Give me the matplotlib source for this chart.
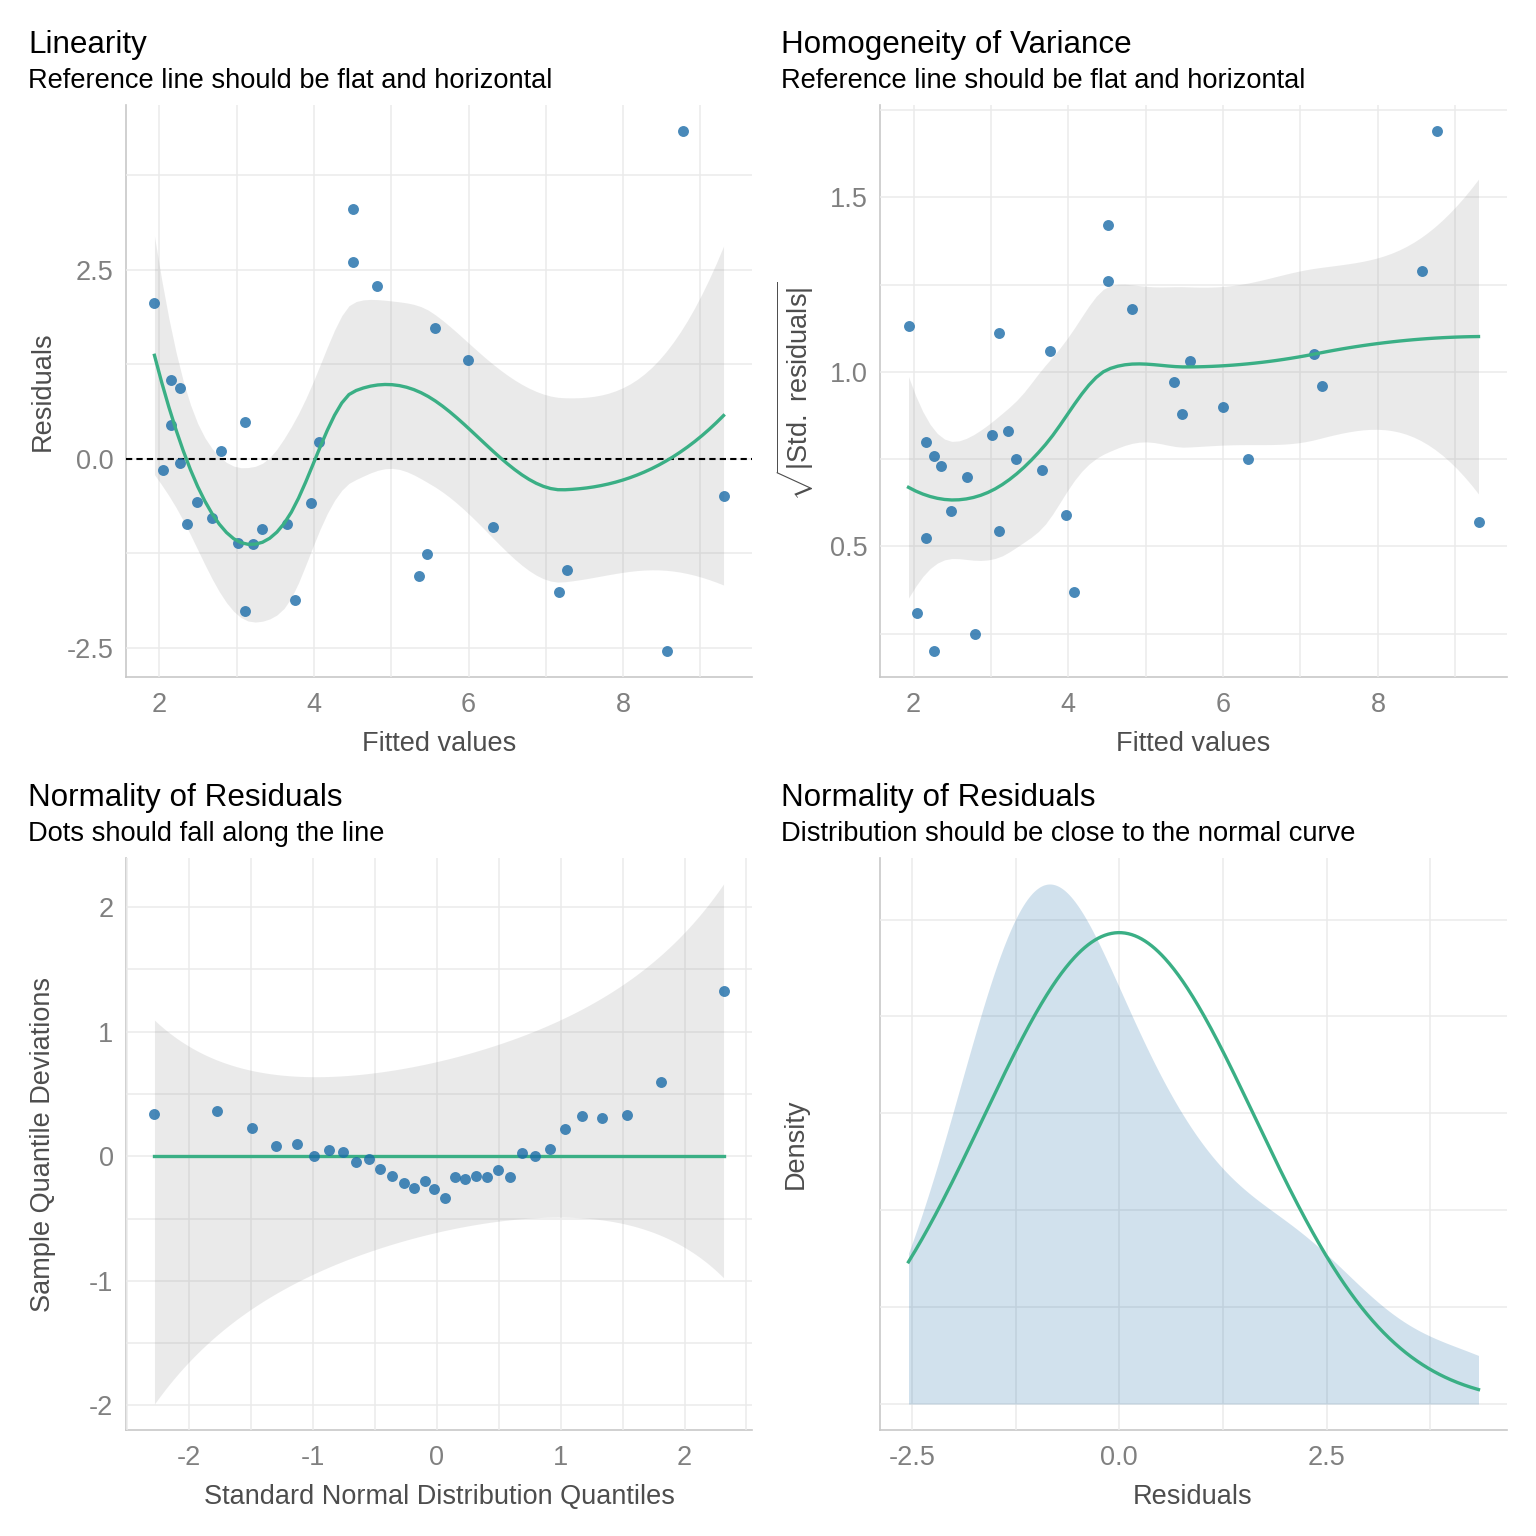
import numpy as np
import matplotlib
matplotlib.use("Agg")
import matplotlib.pyplot as plt
from matplotlib.ticker import MultipleLocator, FixedLocator, NullFormatter, FuncFormatter
from math import erf, sqrt, pi

plt.rcParams['font.family'] = ['Liberation Sans', 'DejaVu Sans']
plt.rcParams['mathtext.fontset'] = 'custom'
plt.rcParams['mathtext.rm'] = 'Liberation Sans'
plt.rcParams['mathtext.it'] = 'Liberation Sans:italic'
plt.rcParams['axes.unicode_minus'] = False

# ---------------- data ----------------
fitted = [1.935, 2.04, 2.155, 2.155, 2.26, 2.26, 2.36, 2.48, 2.685, 2.79, 3.01,
          3.11, 3.11, 3.215, 3.33, 3.655, 3.76, 3.965, 4.07, 4.51, 4.51, 4.82,
          5.36, 5.465, 5.57, 5.995, 6.32, 7.17, 7.275, 8.565, 8.77, 9.30]
residuals = [2.06, -0.15, 1.04, 0.45, 0.94, -0.06, -0.86, -0.57, -0.78, 0.10, -1.11,
             0.49, -2.01, -1.12, -0.93, -0.86, -1.86, -0.58, 0.22, 3.30, 2.60, 2.28,
             -1.55, -1.26, 1.73, 1.31, -0.90, -1.76, -1.47, -2.54, 4.33, -0.49]
sqrt_abs_std_resid = [1.13, 0.31, 0.80, 0.525, 0.76, 0.20, 0.73, 0.60, 0.70, 0.25, 0.82,
                      0.545, 1.11, 0.83, 0.75, 0.72, 1.06, 0.59, 0.37, 1.42, 1.26, 1.18,
                      0.97, 0.88, 1.03, 0.90, 0.75, 1.05, 0.96, 1.29, 1.69, 0.57]
qq_theoretical = [-2.282, -1.774, -1.492, -1.298, -1.129, -0.992, -0.871, -0.758,
                  -0.653, -0.548, -0.460, -0.363, -0.266, -0.185, -0.097, -0.024,
                  0.065, 0.145, 0.226, 0.315, 0.403, 0.492, 0.589, 0.685, 0.790,
                  0.911, 1.032, 1.169, 1.331, 1.532, 1.806, 2.315]
qq_deviation = [0.342, 0.367, 0.229, 0.084, 0.100, 0.005, 0.054, 0.038, -0.049,
                -0.024, -0.102, -0.156, -0.216, -0.256, -0.202, -0.264, -0.332,
                -0.170, -0.183, -0.162, -0.167, -0.111, -0.167, 0.027, 0.000,
                0.059, 0.221, 0.323, 0.305, 0.334, 0.600, 1.330]
# pointwise confidence band parameters of the detrended QQ plot
qq_band_intercept = 0.075
qq_band_slope = 0.229
qq_band_scale = 0.5466
qq_band_z = 0.887

titles = ["Linearity", "Homogeneity of Variance", "Normality of Residuals", "Normality of Residuals"]
subtitles = ["Reference line should be flat and horizontal",
             "Reference line should be flat and horizontal",
             "Dots should fall along the line",
             "Distribution should be close to the normal curve"]

GREEN = "#3aaf85"
BLUE = "#1b6ca8"
BAND = "#999999"

# ---------------- helpers ----------------
def t975(df):
    z = 1.959964
    g1 = (z**3 + z) / 4
    g2 = (5*z**5 + 16*z**3 + 3*z) / 96
    g3 = (3*z**7 + 19*z**5 + 17*z**3 - 15*z) / 384
    return z + g1/df + g2/df**2 + g3/df**3


def loess_fit(x, y, xs, span=0.75, cell=0.2):
    """loess (degree 2, tricube) with kd-tree vertices + cubic Hermite interpolation, like R."""
    x = np.asarray(x, float); y = np.asarray(y, float)
    n = len(x)
    q = int(np.floor(n * span))
    fc = int(np.floor(n * span * cell))
    xsrt = np.sort(x)
    lo, hi = xsrt[0], xsrt[-1]
    mu = 0.005 * max(hi - lo, 1e-10)
    verts = {lo - mu, hi + mu}

    def split(l, u):
        if u - l + 1 <= fc:
            return
        m = (l + u) // 2
        verts.add(0.5 * (xsrt[m] + xsrt[m + 1]))
        split(l, m)
        split(m + 1, u)
    split(0, n - 1)
    V = np.array(sorted(verts))

    def rows(x0):
        d = np.abs(x - x0)
        h = max(np.sort(d)[q - 1], 1e-12)
        u = np.clip(d / h, 0, 1)
        w = (1 - u**3)**3
        X = np.column_stack([np.ones(n), x - x0, (x - x0)**2])
        XtW = X.T * w
        S = np.linalg.solve(XtW @ X, XtW)
        return S[0], S[1]

    VR = [rows(v) for v in V]
    F = np.array([r[0] for r in VR])
    D = np.array([r[1] for r in VR])

    def interp_rows(pts):
        out = []
        for p in pts:
            i = int(np.clip(np.searchsorted(V, p) - 1, 0, len(V) - 2))
            h = V[i + 1] - V[i]
            t = (p - V[i]) / h
            h00 = 2*t**3 - 3*t**2 + 1
            h10 = t**3 - 2*t**2 + t
            h01 = -2*t**3 + 3*t**2
            h11 = t**3 - t**2
            out.append(h00*F[i] + h10*h*D[i] + h01*F[i+1] + h11*h*D[i+1])
        return np.array(out)

    L = interp_rows(x)
    R = np.eye(n) - L
    M = R.T @ R
    d1 = np.trace(M); d2 = np.trace(M @ M)
    res = R @ y
    s = np.sqrt(np.sum(res**2) / d1)
    Ls = interp_rows(xs)
    fit = Ls @ y
    se = s * np.sqrt(np.sum(Ls**2, axis=1))
    t = t975(d1**2 / d2)
    return fit, fit - t*se, fit + t*se


def style(ax):
    for s in ['top', 'right']:
        ax.spines[s].set_visible(False)
    for s in ['left', 'bottom']:
        ax.spines[s].set_color('#c8c8c8')
        ax.spines[s].set_linewidth(1.2)
        ax.spines[s].set_zorder(0.5)
    ax.grid(True, which='major', color='#ebebeb', lw=1.1)
    ax.grid(True, which='minor', color='#ebebeb', lw=1.1)
    ax.set_axisbelow(True)
    ax.tick_params(which='both', length=0, labelsize=19.5, labelcolor='#808080')
    ax.tick_params(axis='x', pad=11)
    ax.tick_params(axis='y', pad=9)
    ax.use_sticky_edges = False
    ax.margins(0.05)


W = 1536.0
fig = plt.figure(figsize=(15.36, 15.36), dpi=100)

def make_ax(l, t, r, b):
    return fig.add_axes([l / W, 1 - b / W, (r - l) / W, (b - t) / W])

ax1 = make_ax(126, 105, 752, 677)
ax2 = make_ax(880, 105, 1507, 677)
ax3 = make_ax(126, 858, 752, 1430)
ax4 = make_ax(880, 858, 1507, 1430)
for a in (ax1, ax2, ax3, ax4):
    style(a)

fx = np.asarray(fitted)
xs = np.linspace(fx.min(), fx.max(), 80)
PT = dict(s=62, color=BLUE, alpha=0.8, lw=0)
LW = 2.4

# ---- Linearity ----
fit, lo, hi = loess_fit(fitted, residuals, xs)
ax1.fill_between(xs, lo, hi, color=BAND, alpha=0.2, lw=0, zorder=1)
ax1.axhline(0, color='black', lw=1.5, ls=(0, (3, 2)), zorder=2)
ax1.scatter(fitted, residuals, zorder=3, **PT)
ax1.plot(xs, fit, color=GREEN, lw=LW, zorder=4)
ax1.xaxis.set_major_locator(MultipleLocator(2))
ax1.xaxis.set_minor_locator(FixedLocator([1, 3, 5, 7, 9]))
ax1.yaxis.set_major_locator(FixedLocator([-2.5, 0, 2.5]))
ax1.yaxis.set_minor_locator(FixedLocator([-1.25, 1.25, 3.75]))
ax1.set_yticklabels(["-2.5", "0.0", "2.5"])

# ---- Homogeneity ----
fit2, lo2, hi2 = loess_fit(fitted, sqrt_abs_std_resid, xs)
ax2.fill_between(xs, lo2, hi2, color=BAND, alpha=0.2, lw=0, zorder=1)
ax2.scatter(fitted, sqrt_abs_std_resid, zorder=3, **PT)
ax2.plot(xs, fit2, color=GREEN, lw=LW, zorder=4)
ax2.xaxis.set_major_locator(MultipleLocator(2))
ax2.xaxis.set_minor_locator(FixedLocator([1, 3, 5, 7, 9]))
ax2.yaxis.set_major_locator(FixedLocator([0.5, 1.0, 1.5]))
ax2.yaxis.set_minor_locator(FixedLocator([0.25, 0.75, 1.25, 1.75]))
ax2.set_yticklabels(["0.5", "1.0", "1.5"])

# ---- QQ detrended ----
qx = np.asarray(qq_theoretical)
bx = np.linspace(qx.min(), qx.max(), 200)
zz = bx * qq_band_z
pp = np.array([0.5 * (1 + erf(v / sqrt(2))) for v in zz])
hw = qq_band_scale * np.sqrt(pp * (1 - pp)) / (np.exp(-zz**2 / 2) / sqrt(2 * pi))
cen = qq_band_intercept + qq_band_slope * bx
ax3.fill_between(bx, cen - hw, cen + hw, color=BAND, alpha=0.2, lw=0, zorder=1)
ax3.plot([qx.min(), qx.max()], [0, 0], color=GREEN, lw=LW, zorder=2)
ax3.scatter(qq_theoretical, qq_deviation, zorder=3, **PT)
ax3.xaxis.set_major_locator(MultipleLocator(1))
ax3.xaxis.set_minor_locator(FixedLocator([-2.5, -1.5, -0.5, 0.5, 1.5, 2.5]))
ax3.yaxis.set_major_locator(MultipleLocator(1))
ax3.yaxis.set_minor_locator(FixedLocator([-2.5, -1.5, -0.5, 0.5, 1.5, 2.5]))
ax3.xaxis.set_major_formatter(FuncFormatter(lambda v, p: "%d" % round(v)))
ax3.yaxis.set_major_formatter(FuncFormatter(lambda v, p: "%d" % round(v)))

# ---- Density ----
r = np.asarray(residuals)
n = len(r)
sd = r.std(ddof=1)
iqr = np.percentile(r, 75) - np.percentile(r, 25)
bw = 0.9 * min(sd, iqr / 1.34) * n ** (-0.2)
grid = np.linspace(r.min(), r.max(), 512)
dens = np.exp(-0.5 * ((grid[:, None] - r[None, :]) / bw) ** 2).sum(axis=1) / (n * bw * sqrt(2 * pi))
norm_curve = np.exp(-0.5 * ((grid - r.mean()) / sd) ** 2) / (sd * sqrt(2 * pi))
ax4.fill_between(grid, 0, dens, color=BLUE, alpha=0.2, lw=0, zorder=2)
ax4.plot(grid, norm_curve, color=GREEN, lw=LW, zorder=3)
ax4.xaxis.set_major_locator(FixedLocator([-2.5, 0, 2.5]))
ax4.xaxis.set_minor_locator(FixedLocator([-1.25, 1.25, 3.75]))
ax4.set_xticklabels(["-2.5", "0.0", "2.5"])
ax4.yaxis.set_major_locator(FixedLocator([0, 0.1, 0.2]))
ax4.yaxis.set_minor_locator(FixedLocator([0.05, 0.15, 0.25]))
ax4.yaxis.set_major_formatter(NullFormatter())

# ---- titles ----
TK = dict(fontsize=22.6, color='black', ha='left', va='baseline')
SK = dict(fontsize=19.6, color='black', ha='left', va='baseline')
for (x, tb, sb), t, s in zip([(28, 53, 88), (781, 53, 88), (28, 806, 841), (781, 806, 841)],
                             titles, subtitles):
    fig.text(x / W, 1 - tb / W, t, **TK)
    fig.text(x / W, 1 - sb / W, s, **SK)

LK = dict(fontsize=19.5, color='#4d4d4d', ha='center', va='baseline')
fig.text(439 / W, 1 - 751 / W, "Fitted values", **LK)
fig.text(1193 / W, 1 - 751 / W, "Fitted values", **LK)
fig.text(439 / W, 1 - 1504 / W, "Standard Normal Distribution Quantiles", **LK)
fig.text(1193 / W, 1 - 1504 / W, "Residuals", **LK)
fig.text(50 / W, 1 - 391 / W, "Residuals", rotation=90, rotation_mode='anchor', **LK)
fig.text(50 / W, 1 - 1144 / W, "Sample Quantile Deviations", rotation=90, rotation_mode='anchor', **LK)
fig.text(803 / W, 1 - 1144 / W, "Density", rotation=90, rotation_mode='anchor', **LK)
fig.text(808 / W, 1 - 391 / W, r"$\sqrt{|\mathrm{Std.\ residuals}|}$", rotation=90,
         rotation_mode='anchor', **LK)

fig.savefig("out.png", dpi=100, facecolor='white')
